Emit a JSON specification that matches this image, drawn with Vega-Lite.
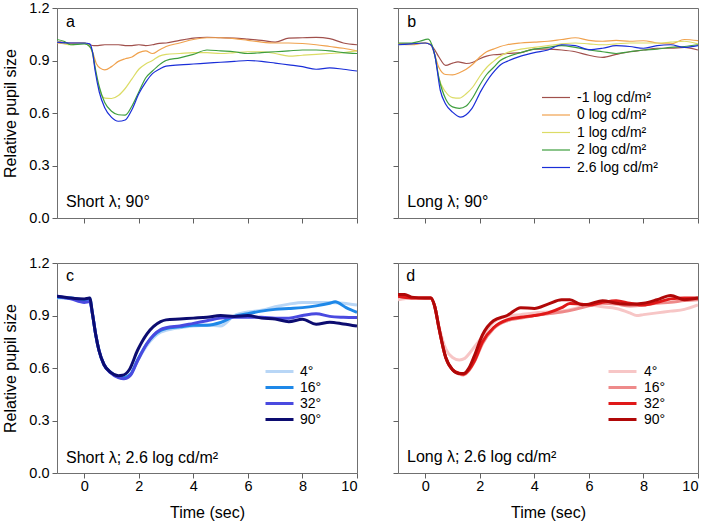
{
"$schema": "https://vega.github.io/schema/vega-lite/v6.json",
"padding": {"left": 2, "top": -1, "right": 0, "bottom": 0},
"background": "white",
"config": {
  "font": "Liberation Sans",
  "view": {"stroke": "#707070", "strokeWidth": 1},
  "axis": {"grid": false, "domain": false, "tickColor": "#606060", "tickSize": 5, "labelFontSize": 14.5, "labelColor": "#000", "titleFontSize": 16, "titleFontWeight": "normal", "titleColor": "#000", "labelPadding": 3},
  "axisX": {"labelPadding": 1},
  "legend": {"labelFontSize": 14, "labelColor": "#000", "orient": "none", "title": null}
},
"columns": 2,
"spacing": {"row": 45, "column": 41},
"bounds": "flush",
"resolve": {"scale": {"color": "independent"}, "legend": {"color": "independent"}},
"concat": [
{
  "width": 300, "height": 210,
  "layer": [
    {
      "data": {"values": [
        {"t":-1,"v":1.01,"s":"-1 log cd/m²"},{"t":-0.5,"v":1.0,"s":"-1 log cd/m²"},{"t":0,"v":1.0,"s":"-1 log cd/m²"},{"t":0.2,"v":0.99,"s":"-1 log cd/m²"},{"t":0.35,"v":0.985,"s":"-1 log cd/m²"},{"t":0.5,"v":0.985,"s":"-1 log cd/m²"},{"t":0.75,"v":0.99,"s":"-1 log cd/m²"},{"t":1,"v":0.99,"s":"-1 log cd/m²"},{"t":1.25,"v":0.99,"s":"-1 log cd/m²"},{"t":1.5,"v":0.985,"s":"-1 log cd/m²"},{"t":1.75,"v":0.985,"s":"-1 log cd/m²"},{"t":2,"v":0.99,"s":"-1 log cd/m²"},{"t":2.25,"v":0.985,"s":"-1 log cd/m²"},{"t":2.5,"v":0.99,"s":"-1 log cd/m²"},{"t":2.75,"v":0.998,"s":"-1 log cd/m²"},{"t":3,"v":1.0,"s":"-1 log cd/m²"},{"t":3.5,"v":1.015,"s":"-1 log cd/m²"},{"t":4,"v":1.028,"s":"-1 log cd/m²"},{"t":4.5,"v":1.033,"s":"-1 log cd/m²"},{"t":5,"v":1.03,"s":"-1 log cd/m²"},{"t":5.5,"v":1.028,"s":"-1 log cd/m²"},{"t":6,"v":1.022,"s":"-1 log cd/m²"},{"t":6.5,"v":1.015,"s":"-1 log cd/m²"},{"t":7,"v":1.005,"s":"-1 log cd/m²"},{"t":7.5,"v":1.028,"s":"-1 log cd/m²"},{"t":8,"v":1.03,"s":"-1 log cd/m²"},{"t":8.5,"v":1.032,"s":"-1 log cd/m²"},{"t":9,"v":1.025,"s":"-1 log cd/m²"},{"t":9.5,"v":1.0,"s":"-1 log cd/m²"},{"t":10,"v":0.99,"s":"-1 log cd/m²"},
        {"t":-1,"v":1.0,"s":"0 log cd/m²"},{"t":-0.5,"v":0.995,"s":"0 log cd/m²"},{"t":0,"v":1.0,"s":"0 log cd/m²"},{"t":0.2,"v":0.98,"s":"0 log cd/m²"},{"t":0.3,"v":0.95,"s":"0 log cd/m²"},{"t":0.45,"v":0.88,"s":"0 log cd/m²"},{"t":0.6,"v":0.855,"s":"0 log cd/m²"},{"t":0.75,"v":0.846,"s":"0 log cd/m²"},{"t":1,"v":0.865,"s":"0 log cd/m²"},{"t":1.25,"v":0.895,"s":"0 log cd/m²"},{"t":1.5,"v":0.91,"s":"0 log cd/m²"},{"t":1.75,"v":0.92,"s":"0 log cd/m²"},{"t":2,"v":0.945,"s":"0 log cd/m²"},{"t":2.25,"v":0.955,"s":"0 log cd/m²"},{"t":2.5,"v":0.94,"s":"0 log cd/m²"},{"t":2.75,"v":0.96,"s":"0 log cd/m²"},{"t":3,"v":0.98,"s":"0 log cd/m²"},{"t":3.5,"v":1.0,"s":"0 log cd/m²"},{"t":4,"v":1.02,"s":"0 log cd/m²"},{"t":4.5,"v":1.03,"s":"0 log cd/m²"},{"t":5,"v":1.03,"s":"0 log cd/m²"},{"t":5.5,"v":1.025,"s":"0 log cd/m²"},{"t":6,"v":1.015,"s":"0 log cd/m²"},{"t":6.5,"v":1.005,"s":"0 log cd/m²"},{"t":7,"v":1.0,"s":"0 log cd/m²"},{"t":7.5,"v":1.0,"s":"0 log cd/m²"},{"t":8,"v":0.997,"s":"0 log cd/m²"},{"t":8.5,"v":0.99,"s":"0 log cd/m²"},{"t":9,"v":0.98,"s":"0 log cd/m²"},{"t":9.5,"v":0.97,"s":"0 log cd/m²"},{"t":10,"v":0.955,"s":"0 log cd/m²"},
        {"t":-1,"v":1.01,"s":"1 log cd/m²"},{"t":-0.5,"v":0.99,"s":"1 log cd/m²"},{"t":0,"v":1.0,"s":"1 log cd/m²"},{"t":0.2,"v":0.98,"s":"1 log cd/m²"},{"t":0.3,"v":0.94,"s":"1 log cd/m²"},{"t":0.4,"v":0.85,"s":"1 log cd/m²"},{"t":0.55,"v":0.74,"s":"1 log cd/m²"},{"t":0.75,"v":0.685,"s":"1 log cd/m²"},{"t":1,"v":0.683,"s":"1 log cd/m²"},{"t":1.25,"v":0.7,"s":"1 log cd/m²"},{"t":1.5,"v":0.74,"s":"1 log cd/m²"},{"t":1.75,"v":0.795,"s":"1 log cd/m²"},{"t":2,"v":0.85,"s":"1 log cd/m²"},{"t":2.25,"v":0.88,"s":"1 log cd/m²"},{"t":2.5,"v":0.9,"s":"1 log cd/m²"},{"t":2.75,"v":0.925,"s":"1 log cd/m²"},{"t":3,"v":0.935,"s":"1 log cd/m²"},{"t":3.5,"v":0.94,"s":"1 log cd/m²"},{"t":4,"v":0.945,"s":"1 log cd/m²"},{"t":4.5,"v":0.945,"s":"1 log cd/m²"},{"t":5,"v":0.94,"s":"1 log cd/m²"},{"t":5.5,"v":0.945,"s":"1 log cd/m²"},{"t":6,"v":0.95,"s":"1 log cd/m²"},{"t":6.5,"v":0.95,"s":"1 log cd/m²"},{"t":7,"v":0.94,"s":"1 log cd/m²"},{"t":7.5,"v":0.925,"s":"1 log cd/m²"},{"t":8,"v":0.93,"s":"1 log cd/m²"},{"t":8.5,"v":0.935,"s":"1 log cd/m²"},{"t":9,"v":0.94,"s":"1 log cd/m²"},{"t":9.5,"v":0.945,"s":"1 log cd/m²"},{"t":10,"v":0.955,"s":"1 log cd/m²"},
        {"t":-1,"v":1.02,"s":"2 log cd/m²"},{"t":-0.75,"v":1.01,"s":"2 log cd/m²"},{"t":-0.5,"v":0.99,"s":"2 log cd/m²"},{"t":0,"v":0.995,"s":"2 log cd/m²"},{"t":0.2,"v":0.98,"s":"2 log cd/m²"},{"t":0.3,"v":0.95,"s":"2 log cd/m²"},{"t":0.4,"v":0.86,"s":"2 log cd/m²"},{"t":0.55,"v":0.75,"s":"2 log cd/m²"},{"t":0.75,"v":0.66,"s":"2 log cd/m²"},{"t":1,"v":0.61,"s":"2 log cd/m²"},{"t":1.25,"v":0.59,"s":"2 log cd/m²"},{"t":1.5,"v":0.588,"s":"2 log cd/m²"},{"t":1.75,"v":0.64,"s":"2 log cd/m²"},{"t":2,"v":0.72,"s":"2 log cd/m²"},{"t":2.25,"v":0.8,"s":"2 log cd/m²"},{"t":2.5,"v":0.84,"s":"2 log cd/m²"},{"t":2.75,"v":0.875,"s":"2 log cd/m²"},{"t":3,"v":0.9,"s":"2 log cd/m²"},{"t":3.5,"v":0.915,"s":"2 log cd/m²"},{"t":4,"v":0.935,"s":"2 log cd/m²"},{"t":4.5,"v":0.96,"s":"2 log cd/m²"},{"t":5,"v":0.955,"s":"2 log cd/m²"},{"t":5.5,"v":0.95,"s":"2 log cd/m²"},{"t":6,"v":0.94,"s":"2 log cd/m²"},{"t":6.5,"v":0.945,"s":"2 log cd/m²"},{"t":7,"v":0.95,"s":"2 log cd/m²"},{"t":7.5,"v":0.955,"s":"2 log cd/m²"},{"t":8,"v":0.96,"s":"2 log cd/m²"},{"t":8.5,"v":0.96,"s":"2 log cd/m²"},{"t":9,"v":0.955,"s":"2 log cd/m²"},{"t":9.5,"v":0.945,"s":"2 log cd/m²"},{"t":10,"v":0.94,"s":"2 log cd/m²"},
        {"t":-1,"v":1.005,"s":"2.6 log cd/m²"},{"t":-0.5,"v":1.0,"s":"2.6 log cd/m²"},{"t":0,"v":1.0,"s":"2.6 log cd/m²"},{"t":0.2,"v":0.995,"s":"2.6 log cd/m²"},{"t":0.3,"v":0.95,"s":"2.6 log cd/m²"},{"t":0.4,"v":0.84,"s":"2.6 log cd/m²"},{"t":0.55,"v":0.72,"s":"2.6 log cd/m²"},{"t":0.75,"v":0.63,"s":"2.6 log cd/m²"},{"t":1,"v":0.575,"s":"2.6 log cd/m²"},{"t":1.25,"v":0.553,"s":"2.6 log cd/m²"},{"t":1.5,"v":0.56,"s":"2.6 log cd/m²"},{"t":1.75,"v":0.62,"s":"2.6 log cd/m²"},{"t":2,"v":0.71,"s":"2.6 log cd/m²"},{"t":2.25,"v":0.775,"s":"2.6 log cd/m²"},{"t":2.5,"v":0.825,"s":"2.6 log cd/m²"},{"t":2.75,"v":0.85,"s":"2.6 log cd/m²"},{"t":3,"v":0.868,"s":"2.6 log cd/m²"},{"t":3.5,"v":0.875,"s":"2.6 log cd/m²"},{"t":4,"v":0.88,"s":"2.6 log cd/m²"},{"t":4.5,"v":0.885,"s":"2.6 log cd/m²"},{"t":5,"v":0.89,"s":"2.6 log cd/m²"},{"t":5.5,"v":0.895,"s":"2.6 log cd/m²"},{"t":6,"v":0.9,"s":"2.6 log cd/m²"},{"t":6.5,"v":0.895,"s":"2.6 log cd/m²"},{"t":7,"v":0.885,"s":"2.6 log cd/m²"},{"t":7.5,"v":0.875,"s":"2.6 log cd/m²"},{"t":8,"v":0.865,"s":"2.6 log cd/m²"},{"t":8.5,"v":0.85,"s":"2.6 log cd/m²"},{"t":9,"v":0.858,"s":"2.6 log cd/m²"},{"t":9.5,"v":0.85,"s":"2.6 log cd/m²"},{"t":10,"v":0.84,"s":"2.6 log cd/m²"}
      ]},
      "mark": {"type": "line", "strokeWidth": 1.2, "interpolate": "monotone", "clip": true},
      "encoding": {
        "x": {"field": "t", "type": "quantitative", "scale": {"domain": [-1, 10], "nice": false}, "axis": {"title": null, "labels": false, "values": [0,2,4,6,8,10]}},
        "y": {"field": "v", "type": "quantitative", "scale": {"domain": [0, 1.2], "nice": false}, "axis": {"title": "Relative pupil size", "values": [0,0.3,0.6,0.9,1.2], "format": ".1f", "titlePadding": 10}},
        "color": {"field": "s", "type": "nominal", "scale": {"domain": ["-1 log cd/m²","0 log cd/m²","1 log cd/m²","2 log cd/m²","2.6 log cd/m²"], "range": ["#A0504C","#F0A24E","#DCDC66","#3E9E3E","#1A2ED8"]}, "legend": null}
      }
    },
    {"data": {"values": [{"label": "a"}]}, "mark": {"type": "text", "align": "left", "baseline": "alphabetic", "fontSize": 16}, "encoding": {"x": {"datum": -0.67, "type": "quantitative"}, "y": {"datum": 1.093, "type": "quantitative"}, "text": {"field": "label"}}},
    {"data": {"values": [{"label": "Short λ; 90°"}]}, "mark": {"type": "text", "align": "left", "baseline": "alphabetic", "fontSize": 16}, "encoding": {"x": {"datum": -0.67, "type": "quantitative"}, "y": {"datum": 0.064, "type": "quantitative"}, "text": {"field": "label"}}}
  ]
},
{
  "width": 300, "height": 210,
  "layer": [
    {
      "data": {"values": [
        {"t":-1,"v":0.995,"s":"-1 log cd/m²"},{"t":-0.5,"v":0.995,"s":"-1 log cd/m²"},{"t":0,"v":1.0,"s":"-1 log cd/m²"},{"t":0.2,"v":0.99,"s":"-1 log cd/m²"},{"t":0.35,"v":0.96,"s":"-1 log cd/m²"},{"t":0.5,"v":0.92,"s":"-1 log cd/m²"},{"t":0.75,"v":0.872,"s":"-1 log cd/m²"},{"t":1,"v":0.885,"s":"-1 log cd/m²"},{"t":1.2,"v":0.892,"s":"-1 log cd/m²"},{"t":1.5,"v":0.883,"s":"-1 log cd/m²"},{"t":1.75,"v":0.89,"s":"-1 log cd/m²"},{"t":2,"v":0.91,"s":"-1 log cd/m²"},{"t":2.25,"v":0.925,"s":"-1 log cd/m²"},{"t":2.5,"v":0.933,"s":"-1 log cd/m²"},{"t":2.75,"v":0.935,"s":"-1 log cd/m²"},{"t":3,"v":0.94,"s":"-1 log cd/m²"},{"t":3.5,"v":0.945,"s":"-1 log cd/m²"},{"t":4,"v":0.965,"s":"-1 log cd/m²"},{"t":4.5,"v":0.965,"s":"-1 log cd/m²"},{"t":5,"v":0.96,"s":"-1 log cd/m²"},{"t":5.5,"v":0.95,"s":"-1 log cd/m²"},{"t":6,"v":0.93,"s":"-1 log cd/m²"},{"t":6.5,"v":0.918,"s":"-1 log cd/m²"},{"t":7,"v":0.935,"s":"-1 log cd/m²"},{"t":7.5,"v":0.95,"s":"-1 log cd/m²"},{"t":8,"v":0.96,"s":"-1 log cd/m²"},{"t":8.5,"v":0.97,"s":"-1 log cd/m²"},{"t":9,"v":0.97,"s":"-1 log cd/m²"},{"t":9.5,"v":0.975,"s":"-1 log cd/m²"},{"t":10,"v":0.96,"s":"-1 log cd/m²"},
        {"t":-1,"v":0.995,"s":"0 log cd/m²"},{"t":-0.5,"v":0.99,"s":"0 log cd/m²"},{"t":0,"v":1.0,"s":"0 log cd/m²"},{"t":0.2,"v":0.99,"s":"0 log cd/m²"},{"t":0.35,"v":0.93,"s":"0 log cd/m²"},{"t":0.5,"v":0.86,"s":"0 log cd/m²"},{"t":0.75,"v":0.82,"s":"0 log cd/m²"},{"t":1,"v":0.818,"s":"0 log cd/m²"},{"t":1.25,"v":0.83,"s":"0 log cd/m²"},{"t":1.5,"v":0.85,"s":"0 log cd/m²"},{"t":1.75,"v":0.88,"s":"0 log cd/m²"},{"t":2,"v":0.92,"s":"0 log cd/m²"},{"t":2.25,"v":0.95,"s":"0 log cd/m²"},{"t":2.5,"v":0.965,"s":"0 log cd/m²"},{"t":2.75,"v":0.98,"s":"0 log cd/m²"},{"t":3,"v":0.99,"s":"0 log cd/m²"},{"t":3.5,"v":1.0,"s":"0 log cd/m²"},{"t":4,"v":1.005,"s":"0 log cd/m²"},{"t":4.5,"v":1.01,"s":"0 log cd/m²"},{"t":5,"v":1.02,"s":"0 log cd/m²"},{"t":5.5,"v":1.03,"s":"0 log cd/m²"},{"t":6,"v":1.015,"s":"0 log cd/m²"},{"t":6.5,"v":1.01,"s":"0 log cd/m²"},{"t":7,"v":1.015,"s":"0 log cd/m²"},{"t":7.5,"v":1.01,"s":"0 log cd/m²"},{"t":8,"v":1.013,"s":"0 log cd/m²"},{"t":8.5,"v":1.0,"s":"0 log cd/m²"},{"t":9,"v":0.995,"s":"0 log cd/m²"},{"t":9.5,"v":1.02,"s":"0 log cd/m²"},{"t":10,"v":1.013,"s":"0 log cd/m²"},
        {"t":-1,"v":0.99,"s":"1 log cd/m²"},{"t":-0.5,"v":0.995,"s":"1 log cd/m²"},{"t":0,"v":1.0,"s":"1 log cd/m²"},{"t":0.2,"v":0.995,"s":"1 log cd/m²"},{"t":0.35,"v":0.93,"s":"1 log cd/m²"},{"t":0.5,"v":0.8,"s":"1 log cd/m²"},{"t":0.75,"v":0.72,"s":"1 log cd/m²"},{"t":1,"v":0.688,"s":"1 log cd/m²"},{"t":1.25,"v":0.685,"s":"1 log cd/m²"},{"t":1.5,"v":0.71,"s":"1 log cd/m²"},{"t":1.75,"v":0.75,"s":"1 log cd/m²"},{"t":2,"v":0.81,"s":"1 log cd/m²"},{"t":2.25,"v":0.86,"s":"1 log cd/m²"},{"t":2.5,"v":0.895,"s":"1 log cd/m²"},{"t":2.75,"v":0.925,"s":"1 log cd/m²"},{"t":3,"v":0.945,"s":"1 log cd/m²"},{"t":3.5,"v":0.965,"s":"1 log cd/m²"},{"t":4,"v":0.975,"s":"1 log cd/m²"},{"t":4.5,"v":0.985,"s":"1 log cd/m²"},{"t":5,"v":0.995,"s":"1 log cd/m²"},{"t":5.5,"v":1.0,"s":"1 log cd/m²"},{"t":6,"v":0.995,"s":"1 log cd/m²"},{"t":6.5,"v":0.99,"s":"1 log cd/m²"},{"t":7,"v":0.995,"s":"1 log cd/m²"},{"t":7.5,"v":1.0,"s":"1 log cd/m²"},{"t":8,"v":1.0,"s":"1 log cd/m²"},{"t":8.5,"v":1.0,"s":"1 log cd/m²"},{"t":9,"v":1.005,"s":"1 log cd/m²"},{"t":9.5,"v":1.01,"s":"1 log cd/m²"},{"t":10,"v":0.995,"s":"1 log cd/m²"},
        {"t":-1,"v":1.0,"s":"2 log cd/m²"},{"t":-0.5,"v":1.0,"s":"2 log cd/m²"},{"t":-0.2,"v":1.01,"s":"2 log cd/m²"},{"t":0.1,"v":1.022,"s":"2 log cd/m²"},{"t":0.35,"v":0.93,"s":"2 log cd/m²"},{"t":0.5,"v":0.8,"s":"2 log cd/m²"},{"t":0.75,"v":0.68,"s":"2 log cd/m²"},{"t":1,"v":0.635,"s":"2 log cd/m²"},{"t":1.25,"v":0.627,"s":"2 log cd/m²"},{"t":1.5,"v":0.64,"s":"2 log cd/m²"},{"t":1.75,"v":0.69,"s":"2 log cd/m²"},{"t":2,"v":0.76,"s":"2 log cd/m²"},{"t":2.25,"v":0.82,"s":"2 log cd/m²"},{"t":2.5,"v":0.86,"s":"2 log cd/m²"},{"t":2.75,"v":0.9,"s":"2 log cd/m²"},{"t":3,"v":0.92,"s":"2 log cd/m²"},{"t":3.5,"v":0.945,"s":"2 log cd/m²"},{"t":4,"v":0.965,"s":"2 log cd/m²"},{"t":4.5,"v":0.975,"s":"2 log cd/m²"},{"t":5,"v":0.985,"s":"2 log cd/m²"},{"t":5.5,"v":0.975,"s":"2 log cd/m²"},{"t":6,"v":0.96,"s":"2 log cd/m²"},{"t":6.5,"v":0.95,"s":"2 log cd/m²"},{"t":7,"v":0.94,"s":"2 log cd/m²"},{"t":7.5,"v":0.95,"s":"2 log cd/m²"},{"t":8,"v":0.96,"s":"2 log cd/m²"},{"t":8.5,"v":0.965,"s":"2 log cd/m²"},{"t":9,"v":0.975,"s":"2 log cd/m²"},{"t":9.5,"v":0.98,"s":"2 log cd/m²"},{"t":10,"v":0.99,"s":"2 log cd/m²"},
        {"t":-1,"v":0.99,"s":"2.6 log cd/m²"},{"t":-0.5,"v":0.995,"s":"2.6 log cd/m²"},{"t":0,"v":1.0,"s":"2.6 log cd/m²"},{"t":0.2,"v":0.99,"s":"2.6 log cd/m²"},{"t":0.35,"v":0.93,"s":"2.6 log cd/m²"},{"t":0.55,"v":0.73,"s":"2.6 log cd/m²"},{"t":0.75,"v":0.65,"s":"2.6 log cd/m²"},{"t":1,"v":0.605,"s":"2.6 log cd/m²"},{"t":1.3,"v":0.576,"s":"2.6 log cd/m²"},{"t":1.5,"v":0.59,"s":"2.6 log cd/m²"},{"t":1.7,"v":0.623,"s":"2.6 log cd/m²"},{"t":2.05,"v":0.728,"s":"2.6 log cd/m²"},{"t":2.45,"v":0.823,"s":"2.6 log cd/m²"},{"t":2.8,"v":0.88,"s":"2.6 log cd/m²"},{"t":3,"v":0.895,"s":"2.6 log cd/m²"},{"t":3.5,"v":0.925,"s":"2.6 log cd/m²"},{"t":4,"v":0.945,"s":"2.6 log cd/m²"},{"t":4.5,"v":0.96,"s":"2.6 log cd/m²"},{"t":5,"v":0.99,"s":"2.6 log cd/m²"},{"t":5.5,"v":0.985,"s":"2.6 log cd/m²"},{"t":6,"v":0.962,"s":"2.6 log cd/m²"},{"t":6.5,"v":0.97,"s":"2.6 log cd/m²"},{"t":7,"v":0.985,"s":"2.6 log cd/m²"},{"t":7.5,"v":0.98,"s":"2.6 log cd/m²"},{"t":8,"v":0.97,"s":"2.6 log cd/m²"},{"t":8.5,"v":0.985,"s":"2.6 log cd/m²"},{"t":9,"v":0.99,"s":"2.6 log cd/m²"},{"t":9.5,"v":0.975,"s":"2.6 log cd/m²"},{"t":10,"v":0.985,"s":"2.6 log cd/m²"}
      ]},
      "mark": {"type": "line", "strokeWidth": 1.2, "interpolate": "monotone", "clip": true},
      "encoding": {
        "x": {"field": "t", "type": "quantitative", "scale": {"domain": [-1, 10], "nice": false}, "axis": {"title": null, "labels": false, "values": [0,2,4,6,8,10]}},
        "y": {"field": "v", "type": "quantitative", "scale": {"domain": [0, 1.2], "nice": false}, "axis": {"title": null, "labels": false, "values": [0,0.3,0.6,0.9,1.2]}},
        "color": {"field": "s", "type": "nominal", "scale": {"domain": ["-1 log cd/m²","0 log cd/m²","1 log cd/m²","2 log cd/m²","2.6 log cd/m²"], "range": ["#A0504C","#F0A24E","#DCDC66","#3E9E3E","#1A2ED8"]},
          "legend": {"orient": "none", "legendX": 150, "legendY": 81.5, "symbolType": "M-2,0H2", "symbolSize": 196, "symbolStrokeWidth": 1.2, "labelOffset": 13, "rowPadding": 2.5, "labelFontSize": 14}}
      }
    },
    {"data": {"values": [{"label": "b"}]}, "mark": {"type": "text", "align": "left", "baseline": "alphabetic", "fontSize": 16}, "encoding": {"x": {"datum": -0.66, "type": "quantitative"}, "y": {"datum": 1.093, "type": "quantitative"}, "text": {"field": "label"}}},
    {"data": {"values": [{"label": "Long λ; 90°"}]}, "mark": {"type": "text", "align": "left", "baseline": "alphabetic", "fontSize": 16}, "encoding": {"x": {"datum": -0.66, "type": "quantitative"}, "y": {"datum": 0.064, "type": "quantitative"}, "text": {"field": "label"}}}
  ]
},
{
  "width": 300, "height": 210,
  "layer": [
    {
      "data": {"values": [
        {"t":-1,"v":1.0,"s":"4°"},{"t":-0.5,"v":1.0,"s":"4°"},{"t":0,"v":0.99,"s":"4°"},{"t":0.2,"v":1.0,"s":"4°"},{"t":0.3,"v":0.91,"s":"4°"},{"t":0.42,"v":0.79,"s":"4°"},{"t":0.54,"v":0.7,"s":"4°"},{"t":0.72,"v":0.62,"s":"4°"},{"t":0.97,"v":0.575,"s":"4°"},{"t":1.25,"v":0.548,"s":"4°"},{"t":1.45,"v":0.543,"s":"4°"},{"t":1.7,"v":0.56,"s":"4°"},{"t":1.95,"v":0.64,"s":"4°"},{"t":2.3,"v":0.73,"s":"4°"},{"t":2.8,"v":0.805,"s":"4°"},{"t":3,"v":0.815,"s":"4°"},{"t":3.5,"v":0.83,"s":"4°"},{"t":4,"v":0.84,"s":"4°"},{"t":4.5,"v":0.845,"s":"4°"},{"t":5,"v":0.84,"s":"4°"},{"t":5.5,"v":0.9,"s":"4°"},{"t":6,"v":0.92,"s":"4°"},{"t":6.5,"v":0.93,"s":"4°"},{"t":7,"v":0.95,"s":"4°"},{"t":7.5,"v":0.965,"s":"4°"},{"t":8,"v":0.975,"s":"4°"},{"t":8.5,"v":0.975,"s":"4°"},{"t":9,"v":0.975,"s":"4°"},{"t":9.5,"v":0.97,"s":"4°"},{"t":10,"v":0.96,"s":"4°"},
        {"t":-1,"v":1.005,"s":"16°"},{"t":-0.5,"v":1.0,"s":"16°"},{"t":0,"v":0.99,"s":"16°"},{"t":0.2,"v":0.995,"s":"16°"},{"t":0.3,"v":0.91,"s":"16°"},{"t":0.42,"v":0.79,"s":"16°"},{"t":0.54,"v":0.7,"s":"16°"},{"t":0.72,"v":0.62,"s":"16°"},{"t":0.97,"v":0.575,"s":"16°"},{"t":1.25,"v":0.55,"s":"16°"},{"t":1.45,"v":0.545,"s":"16°"},{"t":1.7,"v":0.565,"s":"16°"},{"t":1.95,"v":0.645,"s":"16°"},{"t":2.3,"v":0.74,"s":"16°"},{"t":2.8,"v":0.815,"s":"16°"},{"t":3,"v":0.825,"s":"16°"},{"t":3.5,"v":0.835,"s":"16°"},{"t":4,"v":0.845,"s":"16°"},{"t":4.5,"v":0.845,"s":"16°"},{"t":5,"v":0.86,"s":"16°"},{"t":5.5,"v":0.895,"s":"16°"},{"t":6,"v":0.91,"s":"16°"},{"t":6.5,"v":0.925,"s":"16°"},{"t":7,"v":0.935,"s":"16°"},{"t":7.5,"v":0.94,"s":"16°"},{"t":8,"v":0.945,"s":"16°"},{"t":8.5,"v":0.955,"s":"16°"},{"t":9,"v":0.97,"s":"16°"},{"t":9.2,"v":0.978,"s":"16°"},{"t":9.6,"v":0.945,"s":"16°"},{"t":10,"v":0.918,"s":"16°"},
        {"t":-1,"v":1.01,"s":"32°"},{"t":-0.5,"v":0.995,"s":"32°"},{"t":0,"v":0.975,"s":"32°"},{"t":0.2,"v":0.98,"s":"32°"},{"t":0.3,"v":0.91,"s":"32°"},{"t":0.42,"v":0.79,"s":"32°"},{"t":0.54,"v":0.7,"s":"32°"},{"t":0.72,"v":0.62,"s":"32°"},{"t":0.97,"v":0.572,"s":"32°"},{"t":1.25,"v":0.545,"s":"32°"},{"t":1.45,"v":0.538,"s":"32°"},{"t":1.7,"v":0.56,"s":"32°"},{"t":1.95,"v":0.64,"s":"32°"},{"t":2.3,"v":0.74,"s":"32°"},{"t":2.8,"v":0.82,"s":"32°"},{"t":3,"v":0.83,"s":"32°"},{"t":3.5,"v":0.84,"s":"32°"},{"t":4,"v":0.855,"s":"32°"},{"t":4.5,"v":0.87,"s":"32°"},{"t":5,"v":0.885,"s":"32°"},{"t":5.5,"v":0.89,"s":"32°"},{"t":6,"v":0.89,"s":"32°"},{"t":6.5,"v":0.89,"s":"32°"},{"t":7,"v":0.885,"s":"32°"},{"t":7.5,"v":0.885,"s":"32°"},{"t":8,"v":0.9,"s":"32°"},{"t":8.5,"v":0.91,"s":"32°"},{"t":9,"v":0.895,"s":"32°"},{"t":9.5,"v":0.89,"s":"32°"},{"t":10,"v":0.888,"s":"32°"},
        {"t":-1,"v":1.01,"s":"90°"},{"t":-0.5,"v":1.0,"s":"90°"},{"t":0,"v":0.995,"s":"90°"},{"t":0.2,"v":1.0,"s":"90°"},{"t":0.3,"v":0.91,"s":"90°"},{"t":0.42,"v":0.79,"s":"90°"},{"t":0.54,"v":0.7,"s":"90°"},{"t":0.72,"v":0.62,"s":"90°"},{"t":0.97,"v":0.575,"s":"90°"},{"t":1.25,"v":0.556,"s":"90°"},{"t":1.4,"v":0.558,"s":"90°"},{"t":1.65,"v":0.59,"s":"90°"},{"t":1.95,"v":0.7,"s":"90°"},{"t":2.3,"v":0.795,"s":"90°"},{"t":2.8,"v":0.865,"s":"90°"},{"t":3,"v":0.875,"s":"90°"},{"t":3.5,"v":0.88,"s":"90°"},{"t":4,"v":0.885,"s":"90°"},{"t":4.5,"v":0.89,"s":"90°"},{"t":5,"v":0.9,"s":"90°"},{"t":5.5,"v":0.895,"s":"90°"},{"t":6,"v":0.9,"s":"90°"},{"t":6.5,"v":0.885,"s":"90°"},{"t":7,"v":0.88,"s":"90°"},{"t":7.5,"v":0.865,"s":"90°"},{"t":8,"v":0.878,"s":"90°"},{"t":8.5,"v":0.85,"s":"90°"},{"t":9,"v":0.862,"s":"90°"},{"t":9.5,"v":0.852,"s":"90°"},{"t":10,"v":0.84,"s":"90°"}
      ]},
      "mark": {"type": "line", "strokeWidth": 3, "interpolate": "monotone", "clip": true},
      "encoding": {
        "x": {"field": "t", "type": "quantitative", "scale": {"domain": [-1, 10], "nice": false}, "axis": {"title": "Time (sec)", "values": [0,2,4,6,8,10], "titlePadding": 12}},
        "y": {"field": "v", "type": "quantitative", "scale": {"domain": [0, 1.2], "nice": false}, "axis": {"title": "Relative pupil size", "values": [0,0.3,0.6,0.9,1.2], "format": ".1f", "titlePadding": 10}},
        "color": {"field": "s", "type": "nominal", "scale": {"domain": ["4°","16°","32°","90°"], "range": ["#B8D6F6","#1E88E8","#4A4AE0","#0C0C70"]},
          "legend": {"orient": "none", "legendX": 214, "legendY": 100, "symbolType": "M-2,0H2", "symbolSize": 196, "symbolStrokeWidth": 3, "labelOffset": 12, "rowPadding": 0, "labelFontSize": 14}}
      }
    },
    {"data": {"values": [{"label": "c"}]}, "mark": {"type": "text", "align": "left", "baseline": "alphabetic", "fontSize": 16}, "encoding": {"x": {"datum": -0.67, "type": "quantitative"}, "y": {"datum": 1.097, "type": "quantitative"}, "text": {"field": "label"}}},
    {"data": {"values": [{"label": "Short λ; 2.6 log cd/m²"}]}, "mark": {"type": "text", "align": "left", "baseline": "alphabetic", "fontSize": 16}, "encoding": {"x": {"datum": -0.67, "type": "quantitative"}, "y": {"datum": 0.06, "type": "quantitative"}, "text": {"field": "label"}}}
  ]
},
{
  "width": 300, "height": 210,
  "layer": [
    {
      "data": {"values": [
        {"t":-1,"v":0.99,"s":"4°"},{"t":-0.5,"v":1.0,"s":"4°"},{"t":0,"v":1.0,"s":"4°"},{"t":0.2,"v":1.0,"s":"4°"},{"t":0.35,"v":0.95,"s":"4°"},{"t":0.5,"v":0.84,"s":"4°"},{"t":0.75,"v":0.71,"s":"4°"},{"t":1,"v":0.66,"s":"4°"},{"t":1.25,"v":0.646,"s":"4°"},{"t":1.45,"v":0.655,"s":"4°"},{"t":1.6,"v":0.68,"s":"4°"},{"t":1.8,"v":0.72,"s":"4°"},{"t":2.1,"v":0.78,"s":"4°"},{"t":2.5,"v":0.86,"s":"4°"},{"t":3,"v":0.895,"s":"4°"},{"t":3.5,"v":0.905,"s":"4°"},{"t":4,"v":0.915,"s":"4°"},{"t":4.5,"v":0.92,"s":"4°"},{"t":5,"v":0.925,"s":"4°"},{"t":5.5,"v":0.94,"s":"4°"},{"t":6,"v":0.96,"s":"4°"},{"t":6.5,"v":0.95,"s":"4°"},{"t":7,"v":0.94,"s":"4°"},{"t":7.5,"v":0.915,"s":"4°"},{"t":7.75,"v":0.9,"s":"4°"},{"t":8,"v":0.905,"s":"4°"},{"t":8.5,"v":0.915,"s":"4°"},{"t":9,"v":0.925,"s":"4°"},{"t":9.5,"v":0.935,"s":"4°"},{"t":10,"v":0.96,"s":"4°"},
        {"t":-1,"v":1.01,"s":"16°"},{"t":-0.5,"v":1.0,"s":"16°"},{"t":0,"v":1.0,"s":"16°"},{"t":0.2,"v":1.0,"s":"16°"},{"t":0.35,"v":0.95,"s":"16°"},{"t":0.5,"v":0.83,"s":"16°"},{"t":0.75,"v":0.66,"s":"16°"},{"t":1,"v":0.59,"s":"16°"},{"t":1.25,"v":0.565,"s":"16°"},{"t":1.4,"v":0.56,"s":"16°"},{"t":1.6,"v":0.585,"s":"16°"},{"t":1.8,"v":0.635,"s":"16°"},{"t":2.1,"v":0.74,"s":"16°"},{"t":2.5,"v":0.825,"s":"16°"},{"t":3,"v":0.87,"s":"16°"},{"t":3.5,"v":0.885,"s":"16°"},{"t":4,"v":0.9,"s":"16°"},{"t":4.5,"v":0.91,"s":"16°"},{"t":5,"v":0.92,"s":"16°"},{"t":5.5,"v":0.935,"s":"16°"},{"t":6,"v":0.955,"s":"16°"},{"t":6.5,"v":0.97,"s":"16°"},{"t":7,"v":0.965,"s":"16°"},{"t":7.5,"v":0.955,"s":"16°"},{"t":8,"v":0.96,"s":"16°"},{"t":8.5,"v":0.97,"s":"16°"},{"t":9,"v":0.975,"s":"16°"},{"t":9.5,"v":0.985,"s":"16°"},{"t":10,"v":0.99,"s":"16°"},
        {"t":-1,"v":1.01,"s":"32°"},{"t":-0.5,"v":1.0,"s":"32°"},{"t":0,"v":1.0,"s":"32°"},{"t":0.2,"v":1.0,"s":"32°"},{"t":0.35,"v":0.95,"s":"32°"},{"t":0.5,"v":0.83,"s":"32°"},{"t":0.75,"v":0.66,"s":"32°"},{"t":1,"v":0.59,"s":"32°"},{"t":1.25,"v":0.57,"s":"32°"},{"t":1.4,"v":0.565,"s":"32°"},{"t":1.6,"v":0.59,"s":"32°"},{"t":1.8,"v":0.64,"s":"32°"},{"t":2.1,"v":0.75,"s":"32°"},{"t":2.5,"v":0.83,"s":"32°"},{"t":3,"v":0.875,"s":"32°"},{"t":3.5,"v":0.89,"s":"32°"},{"t":4,"v":0.9,"s":"32°"},{"t":4.5,"v":0.915,"s":"32°"},{"t":5,"v":0.945,"s":"32°"},{"t":5.3,"v":0.968,"s":"32°"},{"t":5.75,"v":0.965,"s":"32°"},{"t":6,"v":0.96,"s":"32°"},{"t":6.5,"v":0.975,"s":"32°"},{"t":7,"v":0.985,"s":"32°"},{"t":7.5,"v":0.97,"s":"32°"},{"t":8,"v":0.96,"s":"32°"},{"t":8.5,"v":0.975,"s":"32°"},{"t":9,"v":0.995,"s":"32°"},{"t":9.5,"v":1.0,"s":"32°"},{"t":10,"v":1.0,"s":"32°"},
        {"t":-1,"v":1.02,"s":"90°"},{"t":-0.75,"v":1.02,"s":"90°"},{"t":-0.5,"v":1.005,"s":"90°"},{"t":0,"v":1.0,"s":"90°"},{"t":0.2,"v":1.0,"s":"90°"},{"t":0.35,"v":0.95,"s":"90°"},{"t":0.5,"v":0.83,"s":"90°"},{"t":0.75,"v":0.66,"s":"90°"},{"t":1,"v":0.59,"s":"90°"},{"t":1.25,"v":0.568,"s":"90°"},{"t":1.4,"v":0.568,"s":"90°"},{"t":1.6,"v":0.6,"s":"90°"},{"t":1.8,"v":0.67,"s":"90°"},{"t":2.1,"v":0.79,"s":"90°"},{"t":2.5,"v":0.87,"s":"90°"},{"t":3,"v":0.9,"s":"90°"},{"t":3.5,"v":0.945,"s":"90°"},{"t":4,"v":0.94,"s":"90°"},{"t":4.5,"v":0.965,"s":"90°"},{"t":5,"v":0.99,"s":"90°"},{"t":5.3,"v":0.99,"s":"90°"},{"t":5.75,"v":0.962,"s":"90°"},{"t":6,"v":0.965,"s":"90°"},{"t":6.5,"v":0.985,"s":"90°"},{"t":7,"v":0.97,"s":"90°"},{"t":7.5,"v":0.965,"s":"90°"},{"t":8,"v":0.97,"s":"90°"},{"t":8.5,"v":0.99,"s":"90°"},{"t":9,"v":1.015,"s":"90°"},{"t":9.5,"v":0.99,"s":"90°"},{"t":10,"v":1.0,"s":"90°"}
      ]},
      "mark": {"type": "line", "strokeWidth": 3, "interpolate": "monotone", "clip": true},
      "encoding": {
        "x": {"field": "t", "type": "quantitative", "scale": {"domain": [-1, 10], "nice": false}, "axis": {"title": "Time (sec)", "values": [0,2,4,6,8,10], "titlePadding": 12}},
        "y": {"field": "v", "type": "quantitative", "scale": {"domain": [0, 1.2], "nice": false}, "axis": {"title": null, "labels": false, "values": [0,0.3,0.6,0.9,1.2]}},
        "color": {"field": "s", "type": "nominal", "scale": {"domain": ["4°","16°","32°","90°"], "range": ["#F7C6C6","#EE8A8A","#E01818","#B00808"]},
          "legend": {"orient": "none", "legendX": 216, "legendY": 100, "symbolType": "M-2,0H2", "symbolSize": 196, "symbolStrokeWidth": 3, "labelOffset": 13, "rowPadding": 0, "labelFontSize": 14}}
      }
    },
    {"data": {"values": [{"label": "d"}]}, "mark": {"type": "text", "align": "left", "baseline": "alphabetic", "fontSize": 16}, "encoding": {"x": {"datum": -0.7, "type": "quantitative"}, "y": {"datum": 1.099, "type": "quantitative"}, "text": {"field": "label"}}},
    {"data": {"values": [{"label": "Long λ; 2.6 log cd/m²"}]}, "mark": {"type": "text", "align": "left", "baseline": "alphabetic", "fontSize": 16}, "encoding": {"x": {"datum": -0.67, "type": "quantitative"}, "y": {"datum": 0.061, "type": "quantitative"}, "text": {"field": "label"}}}
  ]
}
]
}
